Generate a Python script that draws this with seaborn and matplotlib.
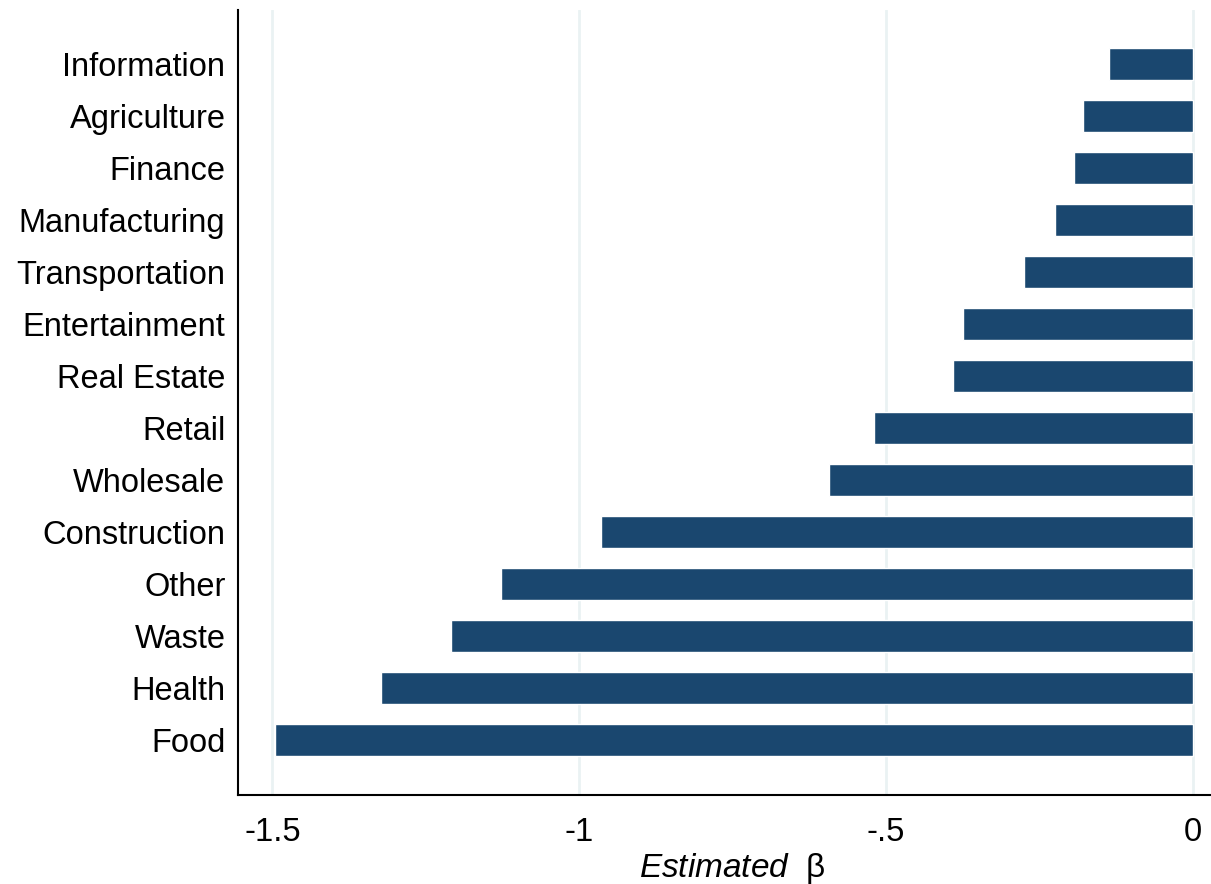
import pandas as pd
import matplotlib.pyplot as plt
import seaborn as sns

# Estimated coefficients by industry
industries = ["Information", "Agriculture", "Finance", "Manufacturing", "Transportation",
              "Entertainment", "Real Estate", "Retail", "Wholesale", "Construction",
              "Other", "Waste", "Health", "Food"]
beta = [-0.137, -0.178, -0.193, -0.225, -0.274, -0.374, -0.390, -0.520, -0.592,
        -0.964, -1.127, -1.209, -1.323, -1.496]
xticks = [-1.5, -1, -0.5, 0]
xtick_labels = ["-1.5", "-1", "-.5", "0"]

data = pd.DataFrame({"industry": industries, "beta": beta})

sns.set_style("white")
plt.rcParams["font.family"] = ["Liberation Sans", "DejaVu Sans"]
plt.rcParams["mathtext.fontset"] = "custom"
plt.rcParams["mathtext.it"] = "Liberation Sans:italic"
plt.rcParams["mathtext.rm"] = "Liberation Sans"
plt.rcParams["text.color"] = "black"
plt.rcParams["axes.labelcolor"] = "black"
plt.rcParams["xtick.color"] = "black"
plt.rcParams["ytick.color"] = "black"

fig = plt.figure(figsize=(12.11, 8.84), dpi=100)
ax = fig.add_axes([0.1965, 0.1007, 0.8035, 0.888])

sns.barplot(x="beta", y="industry", data=data, order=industries, color="#1a476f",
            saturation=1, width=0.62, ax=ax, zorder=3)

# Light vertical grid lines
ax.set_xticks(xticks)
ax.set_xticklabels(xtick_labels)
ax.grid(axis="x", color="#eaf2f3", linewidth=2, zorder=0)
ax.set_axisbelow(True)
ax.set_xlim(-1.556, 0.03)
ax.set_ylim(14.06, -1.04)

# Stata-like axes: left and bottom only
for side in ["top", "right"]:
    ax.spines[side].set_visible(False)
for side in ["left", "bottom"]:
    ax.spines[side].set_color("black")
    ax.spines[side].set_linewidth(1.5)

ax.tick_params(axis="x", length=9, width=1.5, color="black", labelsize=23.5, pad=7)
ax.tick_params(axis="y", length=0, labelsize=23.5, pad=9)
ax.set_ylabel("")
ax.set_xlabel(r"$\mathit{Estimated}$  β", fontsize=24, labelpad=2)
ax.xaxis.label.set_x(0.508)

plt.savefig("out.png", dpi=100)
